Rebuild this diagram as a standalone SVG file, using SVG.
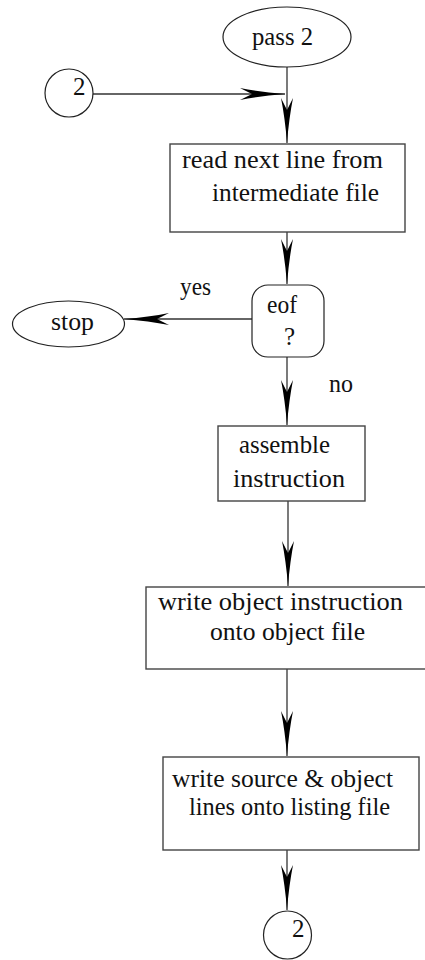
<svg xmlns="http://www.w3.org/2000/svg" width="425" height="960" viewBox="0 0 425 960">
<style>
.s{fill:#fff;stroke:#222;stroke-width:1.2}
.b{fill:#fff;stroke:#444;stroke-width:1.4}
.c{stroke:#333;stroke-width:1.3;fill:none}
text{font-family:'Liberation Serif','DejaVu Serif',serif;font-size:25px;fill:#111}
</style>
<defs>
<marker id="ah" markerUnits="userSpaceOnUse" viewBox="-46 -7 47 14" markerWidth="47" markerHeight="14" refX="0" refY="0" orient="auto">
<path d="M0,0 Q-25,-2 -45,-6 L-33,0 L-45,6 Q-25,2 0,0 Z" fill="#000"/>
</marker>
</defs>
<g id="connectors">
<line class="c" x1="93" y1="94" x2="285" y2="94" marker-end="url(#ah)"/>
<line class="c" x1="287" y1="67" x2="287" y2="143" marker-end="url(#ah)"/>
<line class="c" x1="287" y1="232" x2="287" y2="284" marker-end="url(#ah)"/>
<line class="c" x1="252" y1="319" x2="124" y2="319" marker-end="url(#ah)"/>
<line class="c" x1="287" y1="357" x2="287" y2="425" marker-end="url(#ah)"/>
<line class="c" x1="288" y1="501" x2="288" y2="586" marker-end="url(#ah)"/>
<line class="c" x1="287" y1="669" x2="287" y2="756" marker-end="url(#ah)"/>
<line class="c" x1="287" y1="850" x2="287" y2="910" marker-end="url(#ah)"/>
<text x="180" y="295" textLength="31" lengthAdjust="spacingAndGlyphs">yes</text>
<text x="329" y="392" textLength="24" lengthAdjust="spacingAndGlyphs">no</text>
</g>
<g id="pass2">
<ellipse class="s" cx="287" cy="37" rx="64" ry="30"/>
<text x="252" y="45" textLength="61" lengthAdjust="spacingAndGlyphs">pass 2</text>
</g>
<g id="conn_in">
<circle class="s" cx="69" cy="93" r="24"/>
<text x="73" y="95">2</text>
</g>
<g id="read">
<rect class="b" x="170" y="144" width="235" height="88"/>
<text x="182" y="168" textLength="201" lengthAdjust="spacingAndGlyphs">read next line from</text>
<text x="212" y="201" textLength="167" lengthAdjust="spacingAndGlyphs">intermediate file</text>
</g>
<g id="eof">
<rect class="s" x="252" y="285" width="72" height="72" rx="16"/>
<text x="267" y="313" textLength="30" lengthAdjust="spacingAndGlyphs">eof</text>
<text x="284" y="345">?</text>
</g>
<g id="stop">
<ellipse class="s" cx="68.5" cy="324" rx="56" ry="23"/>
<text x="51" y="330" textLength="43" lengthAdjust="spacingAndGlyphs">stop</text>
</g>
<g id="assemble">
<rect class="b" x="218" y="426" width="147" height="75"/>
<text x="239" y="453" textLength="91" lengthAdjust="spacingAndGlyphs">assemble</text>
<text x="233" y="487" textLength="112" lengthAdjust="spacingAndGlyphs">instruction</text>
</g>
<g id="writeobj">
<rect class="b" x="146" y="587" width="290" height="82"/>
<text x="158" y="610" textLength="245" lengthAdjust="spacingAndGlyphs">write object instruction</text>
<text x="210" y="640" textLength="155" lengthAdjust="spacingAndGlyphs">onto object file</text>
</g>
<g id="listing">
<rect class="b" x="163" y="757" width="256" height="93"/>
<text x="172" y="787" textLength="221" lengthAdjust="spacingAndGlyphs">write source &amp; object</text>
<text x="189" y="815" textLength="201" lengthAdjust="spacingAndGlyphs">lines onto listing file</text>
</g>
<g id="conn_out">
<circle class="s" cx="287.5" cy="935" r="24"/>
<text x="292" y="937">2</text>
</g>
</svg>
